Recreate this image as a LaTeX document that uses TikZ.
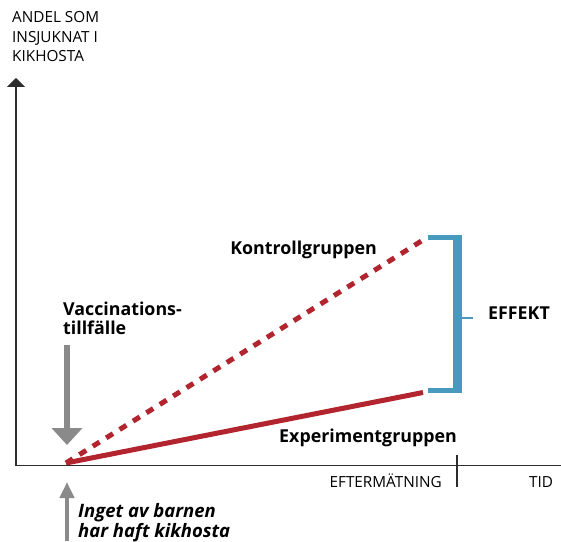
\documentclass[tikz,border=0pt]{standalone}
\usepackage{fontspec}
\setmainfont{Open Sans}
\usetikzlibrary{arrows.meta}

\definecolor{kurvrod}{RGB}{178,36,46}
\definecolor{effektbla}{RGB}{72,153,190}
\definecolor{pilgra}{RGB}{138,138,138}
\definecolor{axelgra}{RGB}{45,45,45}

\tikzset{
  axel/.style={color=axelgra,line width=1.6pt},
  kurva/.style={color=kurvrod,line width=5.0pt},
  fettext/.style={font=\fontsize{17.8}{19}\selectfont\bfseries,inner sep=0pt},
  tunntext/.style={font=\fontsize{15.3}{19.5}\selectfont,inner sep=0pt}
}

\begin{document}
\begin{tikzpicture}[x=1pt,y=1pt,>=latex]

\useasboundingbox (0,0) rectangle (561,541);

\def\xnoll{16}
\def\ynoll{75.5}
\def\xstart{66}
\def\xslut{423}

% axlar
\coordinate (O) at (\xnoll,\ynoll);
\coordinate (Ytopp) at (\xnoll,463);
\coordinate (Xslut) at (561,\ynoll);
\draw[axel,-{Triangle[width=18pt,length=9pt]}] (O) -- (Ytopp);
\draw[axel] (O) -- (Xslut);

\coordinate (Tick1) at (457,86);
\coordinate (Tick2) at (457,54);
\draw[axel,line width=1.2pt] (Tick1) -- (Tick2);

\node[tunntext,align=left,anchor=base west] (andel) at (12,479) {ANDEL SOM\\INSJUKNAT I\\KIKHOSTA};
\node[tunntext,anchor=base east] (efter) at (442,54) {EFTERMÄTNING};
\node[tunntext,anchor=base west] (tid) at (529,54) {TID};

% kurvorna
\coordinate (S) at (\xstart,78);
\coordinate (K) at (\xslut,301);
\coordinate (E) at (\xslut,148.5);
\draw[kurva,dash pattern=on 8pt off 7.8pt] (S) -- (K);
\draw[kurva] (S) -- (E);

\node[fettext,anchor=base east] (kontroll) at (377,286) {Kontrollgruppen};
\node[fettext,anchor=base east] (experiment) at (457,99) {Experimentgruppen};

% klammern
\coordinate (Ka) at (428,303.5);
\coordinate (Kb) at (462,303.5);
\coordinate (Kc) at (428,150.5);
\coordinate (Kd) at (462,150.5);
\coordinate (Kmitt) at (462,223.5);
\coordinate (Kspets) at (473,223.5);
\draw[color=effektbla,line width=5.0pt] (Ka) -- (Kb);
\draw[color=effektbla,line width=5.0pt] (Kc) -- (Kd);
\draw[color=effektbla,line width=9.0pt] (457.7,306) -- (457.7,148);
\draw[color=effektbla,line width=2.0pt] (Kmitt) -- (Kspets);
\node[fettext,anchor=base west] (effekt) at (488,222) {EFFEKT};

% pilarna
\coordinate (Vtopp) at (67,196);
\coordinate (Vspets) at (67,96);
\draw[color=pilgra,line width=6.0pt,-{Triangle[width=30pt,length=17pt]}] (Vtopp) -- (Vspets);
\node[fettext,align=left,anchor=base west] (vacc) at (63,207) {Vaccinations-\\tillfälle};

\coordinate (Ibotten) at (67,0);
\coordinate (Ispets) at (67,59);
\draw[color=pilgra,line width=4.0pt,-{Triangle[width=14pt,length=16pt]}] (Ibotten) -- (Ispets);
\node[fettext,font=\fontsize{18.5}{18.5}\selectfont\bfseries\itshape,align=left,anchor=base west] (inget) at (78,4) {Inget av barnen\\har haft kikhosta};

\end{tikzpicture}
\end{document}
